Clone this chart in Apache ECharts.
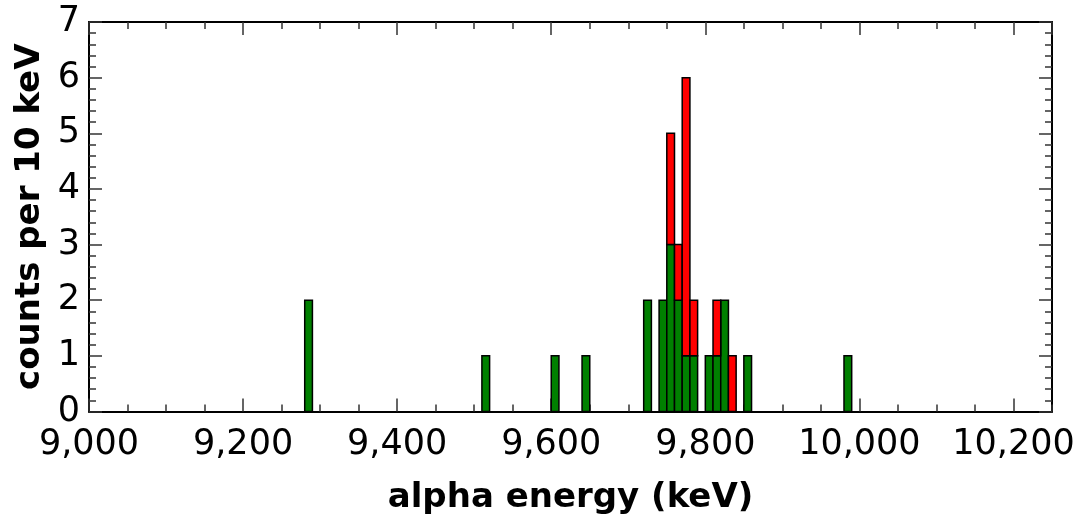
<!DOCTYPE html>
<html>
<head>
<meta charset="utf-8">
<script src="https://cdn.jsdelivr.net/npm/echarts@6/dist/echarts.min.js"></script>
<style>
  html, body { margin: 0; padding: 0; background: #fff; }
  #chart { width: 1089px; height: 516px; }
</style>
</head>
<body>
<div id="chart"></div>
<script>
// Alpha-energy histogram, 10 keV bins (bin lower edges in keV)
const binStarts   = [9280, 9510, 9600, 9640, 9720, 9740, 9750, 9760, 9770, 9780, 9800, 9810, 9820, 9830, 9850, 9980];
const greenCounts = [2,    1,    1,    1,    2,    2,    3,    2,    1,    1,    1,    1,    2,    0,    1,    1];
const redCounts   = [0,    0,    0,    0,    0,    0,    2,    1,    5,    1,    0,    1,    0,    1,    0,    0];
const binWidth = 10;

const xMin = 9000, xMax = 10250;
const yMin = 0, yMax = 7;
const axisFont = 'DejaVu Sans';

// each item: [left edge, right edge, bottom count, top count]
const greenData = binStarts.map((s, i) => [s, s + binWidth, 0, greenCounts[i]]);
const redData = binStarts.map((s, i) => [s, s + binWidth, greenCounts[i], greenCounts[i] + redCounts[i]]);

function binRenderer(fill) {
  return function (params, api) {
    const x0 = api.value(0), x1 = api.value(1), y0 = api.value(2), y1 = api.value(3);
    if (y1 <= y0) return null;
    const p0 = api.coord([x0, y0]);
    const p1 = api.coord([x1, y1]);
    return {
      type: 'rect',
      shape: { x: p0[0], y: p1[1], width: p1[0] - p0[0], height: p0[1] - p1[1] },
      style: { fill: fill, stroke: '#000', lineWidth: 1.5 }
    };
  };
}

function withCommas(v) {
  return String(v).replace(/\B(?=(\d{3})+(?!\d))/g, ',');
}

const lineStyle = { color: '#000', width: 2 };
const tickStyle = { color: '#333', width: 1.5 };

function majorX(position, withLabels) {
  return {
    type: 'value', position: position, min: xMin, max: xMax, interval: 200,
    axisLine: { show: true, onZero: false, lineStyle: lineStyle },
    axisTick: { show: true, inside: true, length: 13, lineStyle: tickStyle },
    axisLabel: {
      show: withLabels, formatter: withCommas, fontSize: 35, fontFamily: axisFont,
      color: '#000', margin: 16, showMaxLabel: false
    },
    splitLine: { show: false },
    name: withLabels ? 'alpha energy (keV)' : '',
    nameLocation: 'middle', nameGap: 70,
    nameTextStyle: { fontSize: 34, fontWeight: 'bold', fontFamily: axisFont, color: '#000' }
  };
}
function minorX(position) {
  return {
    type: 'value', position: position, min: xMin, max: xMax, interval: 50,
    axisLine: { show: false, onZero: false },
    axisTick: { show: true, inside: true, length: 7, lineStyle: tickStyle },
    axisLabel: { show: false },
    splitLine: { show: false }
  };
}
function yAxisDef(position, withLabels) {
  return {
    type: 'value', position: position, min: yMin, max: yMax, interval: 1,
    axisLine: { show: true, onZero: false, lineStyle: lineStyle },
    axisTick: { show: true, inside: true, length: 13, lineStyle: tickStyle },
    minorTick: { show: true, splitNumber: 5, length: 7, lineStyle: tickStyle },
    axisLabel: { show: withLabels, fontSize: 35, fontFamily: axisFont, color: '#000', margin: 9 },
    splitLine: { show: false },
    minorSplitLine: { show: false },
    name: withLabels ? 'counts per 10 keV' : '',
    nameLocation: 'middle', nameGap: 40, nameRotate: 90,
    nameTextStyle: { fontSize: 34, fontWeight: 'bold', fontFamily: axisFont, color: '#000' }
  };
}

const chart = echarts.init(document.getElementById('chart'), null, { renderer: 'canvas' });
chart.setOption({
  animation: false,
  backgroundColor: '#fff',
  grid: {
    left: 89, right: 37, top: 22, bottom: 104.5,
    containLabel: false, outerBoundsMode: 'none'
  },
  xAxis: [majorX('bottom', true), minorX('bottom'), majorX('top', false), minorX('top')],
  yAxis: [yAxisDef('left', true), yAxisDef('right', false)],
  series: [
    {
      type: 'custom', name: 'green', xAxisIndex: 0, yAxisIndex: 0,
      renderItem: binRenderer('#008000'),
      encode: { x: [0, 1], y: [2, 3] },
      data: greenData
    },
    {
      type: 'custom', name: 'red', xAxisIndex: 0, yAxisIndex: 0,
      renderItem: binRenderer('#ff0000'),
      encode: { x: [0, 1], y: [2, 3] },
      data: redData
    }
  ]
});
</script>
</body>
</html>
